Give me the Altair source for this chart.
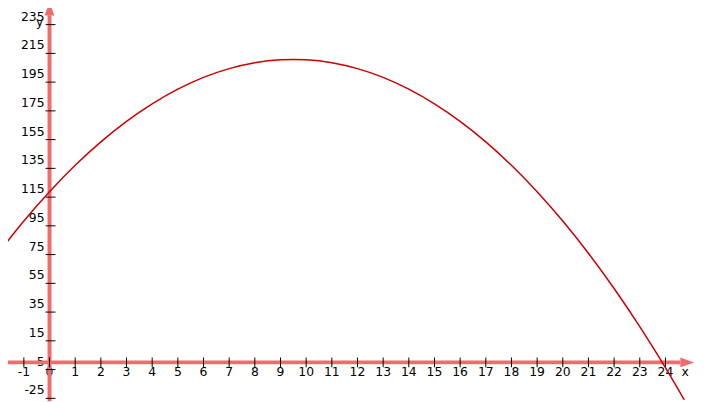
import altair as alt
import pandas as pd

# curve values
curve_x = [-2, -1, 0, 1, 2, 3, 4, 5, 6, 7, 8, 9, 10, 11, 12, 13, 14, 15, 16, 17, 18, 19, 20, 21, 22, 23, 24, 25]
curve_y = [75.9, 98.3, 118.7, 137.1, 153.4, 167.7, 179.9, 190.1, 198.3, 204.4, 208.5, 210.5,
           210.5, 208.5, 204.4, 198.3, 190.1, 179.9, 167.7, 153.4, 137.1, 118.7, 98.3, 75.9,
           51.4, 24.9, -3.7, -34.3]

# axis ticks and labels
x_ticks = [-2, -1, 0, 1, 2, 3, 4, 5, 6, 7, 8, 9, 10, 11, 12, 13, 14, 15, 16, 17, 18, 19, 20, 21, 22, 23, 24]
x_labels = ["-2", "-1", "0", "1", "2", "3", "4", "5", "6", "7", "8", "9", "10", "11", "12", "13", "14", "15", "16", "17", "18", "19", "20", "21", "22", "23", "24"]
y_ticks = [-25, -5, 15, 35, 55, 75, 95, 115, 135, 155, 175, 195, 215, 235]
y_labels = ["-25", "-5", "15", "35", "55", "75", "95", "115", "135", "155", "175", "195", "215", "235"]

# visible window
x_domain = [-1.618, 25.347]
y_domain = [-26.0, 245.0]

AXIS_COLOR = "#f26b6b"
CURVE_COLOR = "#cc0000"
FONT = "DejaVu Sans"
FS = 12.5

curve_df = pd.DataFrame({"x": curve_x, "y": curve_y})
xt_df = pd.DataFrame({"v": x_ticks, "label": x_labels})
yt_df = pd.DataFrame({"v": y_ticks, "label": y_labels})

xs = alt.Scale(domain=x_domain, nice=False, zero=False)
ys = alt.Scale(domain=y_domain, nice=False, zero=False)

x_lab = alt.Chart(xt_df).mark_text(
    font=FONT, fontSize=FS, color="black", align="center", baseline="alphabetic", dy=14
).encode(x=alt.X("v:Q", scale=xs, axis=None), y=alt.datum(0, scale=ys, axis=None), text="label:N")

y_lab = alt.Chart(yt_df).mark_text(
    font=FONT, fontSize=FS, color="black", align="right", baseline="alphabetic", dx=-5, dy=-4
).encode(x=alt.datum(0), y=alt.Y("v:Q", scale=ys, axis=None), text="label:N")

x_name = alt.Chart(pd.DataFrame({"t": ["x"]})).mark_text(
    font=FONT, fontSize=FS, color="black", align="center", baseline="alphabetic", dy=14
).encode(x=alt.datum(24.77), y=alt.datum(0), text="t:N")

y_name = alt.Chart(pd.DataFrame({"t": ["y"]})).mark_text(
    font=FONT, fontSize=FS, color="black", align="center", baseline="alphabetic", dy=0
).encode(x=alt.datum(-0.38), y=alt.datum(234), text="t:N")

x_axis = alt.Chart(pd.DataFrame({"a": [0]})).mark_rule(color=AXIS_COLOR, strokeWidth=4).encode(
    x=alt.datum(-1.7), x2=alt.datum(24.58), y=alt.datum(0)
)
y_axis = alt.Chart(pd.DataFrame({"a": [0]})).mark_rule(color=AXIS_COLOR, strokeWidth=4).encode(
    x=alt.datum(0), y=alt.datum(-27), y2=alt.datum(241.6)
)
x_arrow = alt.Chart(pd.DataFrame({"a": [0]})).mark_point(
    shape="M-1,-0.714L1,0L-1,0.714Z", size=196, filled=True, color=AXIS_COLOR, opacity=1
).encode(x=alt.datum(24.85), y=alt.datum(0))
y_arrow = alt.Chart(pd.DataFrame({"a": [0]})).mark_point(
    shape="M-0.77,1L0,-1L0.77,1Z", size=169, filled=True, color=AXIS_COLOR, opacity=1
).encode(x=alt.datum(0), y=alt.datum(245.9))

x_tick_marks = alt.Chart(xt_df).mark_tick(
    orient="vertical", size=10, thickness=1, color="black", opacity=1
).encode(x="v:Q", y=alt.datum(0))
y_tick_marks = alt.Chart(yt_df).mark_tick(
    orient="horizontal", size=10, thickness=1, color="black", opacity=1
).encode(x=alt.datum(0.04), y="v:Q")

curve = alt.Chart(curve_df).mark_line(
    interpolate="natural", color=CURVE_COLOR, strokeWidth=1.5, clip=True
).encode(x="x:Q", y="y:Q")

chart = alt.layer(
    x_lab, y_lab, x_name, y_name, x_axis, y_axis, x_arrow, y_arrow, x_tick_marks, y_tick_marks, curve
).properties(
    width=700, height=394, padding=0, autosize=alt.AutoSizeParams(type="none"), background="white"
).configure_view(strokeWidth=0)

chart.save("out.html", embed_options={"renderer": "svg", "actions": False})
